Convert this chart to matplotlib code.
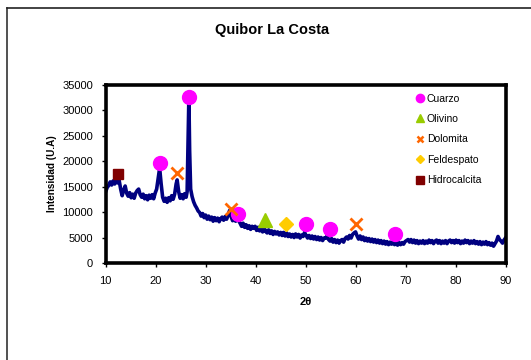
import matplotlib
matplotlib.use('Agg')
import matplotlib.pyplot as plt
from matplotlib.lines import Line2D

plt.rcParams['font.family'] = ['Liberation Sans', 'DejaVu Sans']

# difractograma (2theta, intensidad)
two_theta = [
    10.0, 10.3, 10.6, 10.9, 11.2, 11.5, 11.8, 12.1, 12.4, 12.7,
    13.0, 13.3, 13.6, 13.9, 14.2, 14.5, 14.8, 15.1, 15.4, 15.7,
    16.0, 16.3, 16.6, 16.9, 17.2, 17.5, 17.8, 18.1, 18.4, 18.7,
    19.0, 19.3, 19.6, 19.9, 20.2, 20.5, 20.8, 21.1, 21.4, 21.7,
    22.0, 22.3, 22.6, 22.9, 23.2, 23.5, 23.8, 24.1, 24.3, 24.6,
    24.9, 25.2, 25.5, 25.8, 26.1, 26.3, 26.5, 26.65, 26.8, 27.0,
    27.3, 27.6, 27.9, 28.2, 28.5, 28.8, 29.1, 29.4, 29.7, 30.0,
    30.3, 30.6, 30.9, 31.2, 31.5, 31.8, 32.1, 32.4, 32.7, 33.0,
    33.3, 33.6, 33.9, 34.2, 34.5, 34.8, 35.1, 35.4, 35.7, 36.0,
    36.3, 36.6, 36.9, 37.2, 37.5, 37.8, 38.1, 38.4, 38.7, 39.0,
    39.3, 39.6, 39.9, 40.2, 40.5, 40.8, 41.1, 41.4, 41.7, 42.0,
    42.3, 42.6, 42.9, 43.2, 43.5, 43.8, 44.1, 44.4, 44.7, 45.0,
    45.3, 45.6, 45.9, 46.2, 46.5, 46.8, 47.1, 47.4, 47.7, 48.0,
    48.3, 48.6, 48.9, 49.2, 49.5, 49.8, 50.1, 50.4, 50.7, 51.0,
    51.3, 51.6, 51.9, 52.2, 52.5, 52.8, 53.1, 53.4, 53.7, 54.0,
    54.3, 54.6, 54.9, 55.2, 55.5, 55.8, 56.1, 56.4, 56.7, 57.0,
    57.3, 57.6, 57.9, 58.2, 58.5, 58.8, 59.1, 59.4, 59.7, 60.0,
    60.3, 60.6, 60.9, 61.2, 61.5, 61.8, 62.1, 62.4, 62.7, 63.0,
    63.3, 63.6, 63.9, 64.2, 64.5, 64.8, 65.1, 65.4, 65.7, 66.0,
    66.3, 66.6, 66.9, 67.2, 67.5, 67.8, 68.1, 68.4, 68.7, 69.0,
    69.3, 69.6, 69.9, 70.2, 70.5, 70.8, 71.1, 71.4, 71.7, 72.0,
    72.3, 72.6, 72.9, 73.2, 73.5, 73.8, 74.1, 74.4, 74.7, 75.0,
    75.3, 75.6, 75.9, 76.2, 76.5, 76.8, 77.1, 77.4, 77.7, 78.0,
    78.3, 78.6, 78.9, 79.2, 79.5, 79.8, 80.1, 80.4, 80.7, 81.0,
    81.3, 81.6, 81.9, 82.2, 82.5, 82.8, 83.1, 83.4, 83.7, 84.0,
    84.3, 84.6, 84.9, 85.2, 85.5, 85.8, 86.1, 86.4, 86.7, 87.0,
    87.3, 87.6, 87.9, 88.2, 88.5, 88.8, 89.1, 89.4, 89.7, 90.0,
]
intensity = [
    14000, 14800, 15200, 15900, 15300, 16100, 15500, 16300, 15700, 16200,
    14500, 13200, 14300, 15100, 13700, 13100, 13800, 12800, 13500, 12700,
    13700, 14200, 14500, 13400, 12900, 13500, 12600, 13200, 12400, 13300,
    12700, 13400, 12600, 13700, 14500, 16500, 18600, 15500, 12900, 12100,
    12700, 11900, 12800, 12200, 13200, 12500, 13500, 15500, 16300, 14000,
    12700, 13400, 12600, 13600, 12900, 14000, 25000, 32600, 22000, 14500,
    13000, 12000, 11300, 10800, 10200, 9900, 9200, 9700, 8900, 9400,
    8600, 9200, 8500, 9000, 8200, 8900, 8300, 8800, 8100, 8700,
    9000, 8400, 9100, 8600, 9400, 10300, 9100, 8300, 9000, 8200,
    8900, 8300, 7800, 7200, 7800, 7000, 7500, 6800, 7300, 6600,
    7200, 6800, 7200, 6400, 7000, 6300, 6800, 6100, 6900, 6200,
    5900, 6500, 5800, 6300, 5600, 6200, 5700, 6100, 5500, 6000,
    5400, 6000, 5300, 5900, 5200, 5700, 5100, 5600, 5000, 5700,
    5100, 5600, 4900, 5500, 5200, 6000, 5400, 4900, 5400, 4800,
    5300, 4700, 5200, 4600, 5100, 4500, 5000, 4400, 4900, 4900,
    5300, 4600, 4300, 4800, 4100, 4600, 4000, 4500, 3900, 4400,
    4600, 4100, 4800, 5100, 4700, 5400, 4900, 5600, 5900, 6100,
    5300, 4700, 5300, 4600, 5100, 4400, 4900, 4300, 4800, 4200,
    4700, 4100, 4600, 4000, 4500, 3900, 4400, 3800, 4300, 3700,
    4200, 3600, 4100, 3700, 4200, 3600, 4100, 3500, 4000, 3600,
    4000, 3700, 4200, 4400, 4600, 4100, 4600, 4000, 4500, 3900,
    4400, 3800, 4300, 3900, 4400, 3800, 4300, 3900, 4500, 4000,
    4400, 3800, 4300, 4500, 3900, 4400, 3800, 4300, 3900, 4400,
    3800, 4300, 4500, 4000, 4400, 3900, 4500, 4000, 4400, 3800,
    4300, 3900, 4500, 4000, 4400, 3800, 4300, 3900, 4400, 3800,
    4200, 3700, 4200, 3600, 4100, 3700, 4200, 3600, 4000, 3500,
    3900, 3300, 3800, 4300, 5200, 4600, 4300, 3900, 4500, 4900,
]

# fases identificadas
cuarzo_x = [20.8, 26.6, 36.5, 50.0, 54.8, 67.8]
cuarzo_y = [19600, 32600, 9700, 7700, 6600, 5600]
olivino_x = [41.8]
olivino_y = [8500]
dolomita_x = [24.2, 35.0, 60.0]
dolomita_y = [17600, 10600, 7600]
feldespato_x = [46.1]
feldespato_y = [7600]
hidrocalcita_x = [12.5]
hidrocalcita_y = [17400]

x_ticks = [10, 20, 30, 40, 50, 60, 70, 80, 90]
y_ticks = [0, 5000, 10000, 15000, 20000, 25000, 30000, 35000]

fig = plt.figure(figsize=(5.31, 3.6), dpi=100)
ax = fig.add_axes([0.199, 0.2694, 0.753, 0.4958])

ax.plot(two_theta, intensity, color='#000080', lw=2.6, zorder=2)

ax.plot(cuarzo_x, cuarzo_y, 'o', color='#FF00FF', ms=10, ls='none', zorder=3)
ax.plot(olivino_x, olivino_y, '^', color='#99CC00', ms=10, ls='none', zorder=3)
ax.plot(dolomita_x, dolomita_y, 'x', color='#FF6600', ms=9, mew=2, ls='none', zorder=3)
ax.plot(feldespato_x, feldespato_y, 'D', color='#FFCC00', ms=7, ls='none', zorder=3)
ax.plot(hidrocalcita_x, hidrocalcita_y, 's', color='#800000', ms=6.5, ls='none', zorder=3)

ax.set_xlim(10, 90)
ax.set_ylim(0, 35000)
ax.set_xticks(x_ticks)
ax.set_yticks(y_ticks)
ax.tick_params(direction='out', length=3, width=1, labelsize=8, pad=6)

for s in ax.spines.values():
    s.set_linewidth(2.6)
    s.set_color('black')

ax.set_title('Quibor La Costa', fontsize=10.5, fontweight='bold',
             x=0.415, y=1.283, pad=0)
ax.set_xlabel('2θ', fontsize=8, fontweight='bold', labelpad=8)
ax.set_ylabel('Intensidad (U.A)', fontsize=7.2, fontweight='bold', labelpad=4)

handles = [
    Line2D([], [], marker='o', color='#FF00FF', ls='none', ms=6),
    Line2D([], [], marker='^', color='#99CC00', ls='none', ms=6),
    Line2D([], [], marker='x', color='#FF6600', ls='none', ms=5, mew=1.8),
    Line2D([], [], marker='D', color='#FFCC00', ls='none', ms=4.5),
    Line2D([], [], marker='s', color='#800000', ls='none', ms=5.5),
]
labels = ['Cuarzo', 'Olivino', 'Dolomita', 'Feldespato', 'Hidrocalcita']
ax.legend(handles, labels, loc='upper left', bbox_to_anchor=(0.785, 0.74),
          bbox_transform=fig.transFigure, frameon=False, fontsize=7.5,
          handlelength=0.7, handletextpad=0.25, labelspacing=1.0,
          borderpad=0, borderaxespad=0)

# marco del grafico (solo borde superior e izquierdo visibles)
fig.add_artist(Line2D([7 / 531, 7 / 531], [0, 1 - 8 / 360], color='#333333', lw=1.2))
fig.add_artist(Line2D([7 / 531, 1], [1 - 8 / 360, 1 - 8 / 360], color='#222222', lw=1.2))

fig.savefig('out.png', dpi=100)
